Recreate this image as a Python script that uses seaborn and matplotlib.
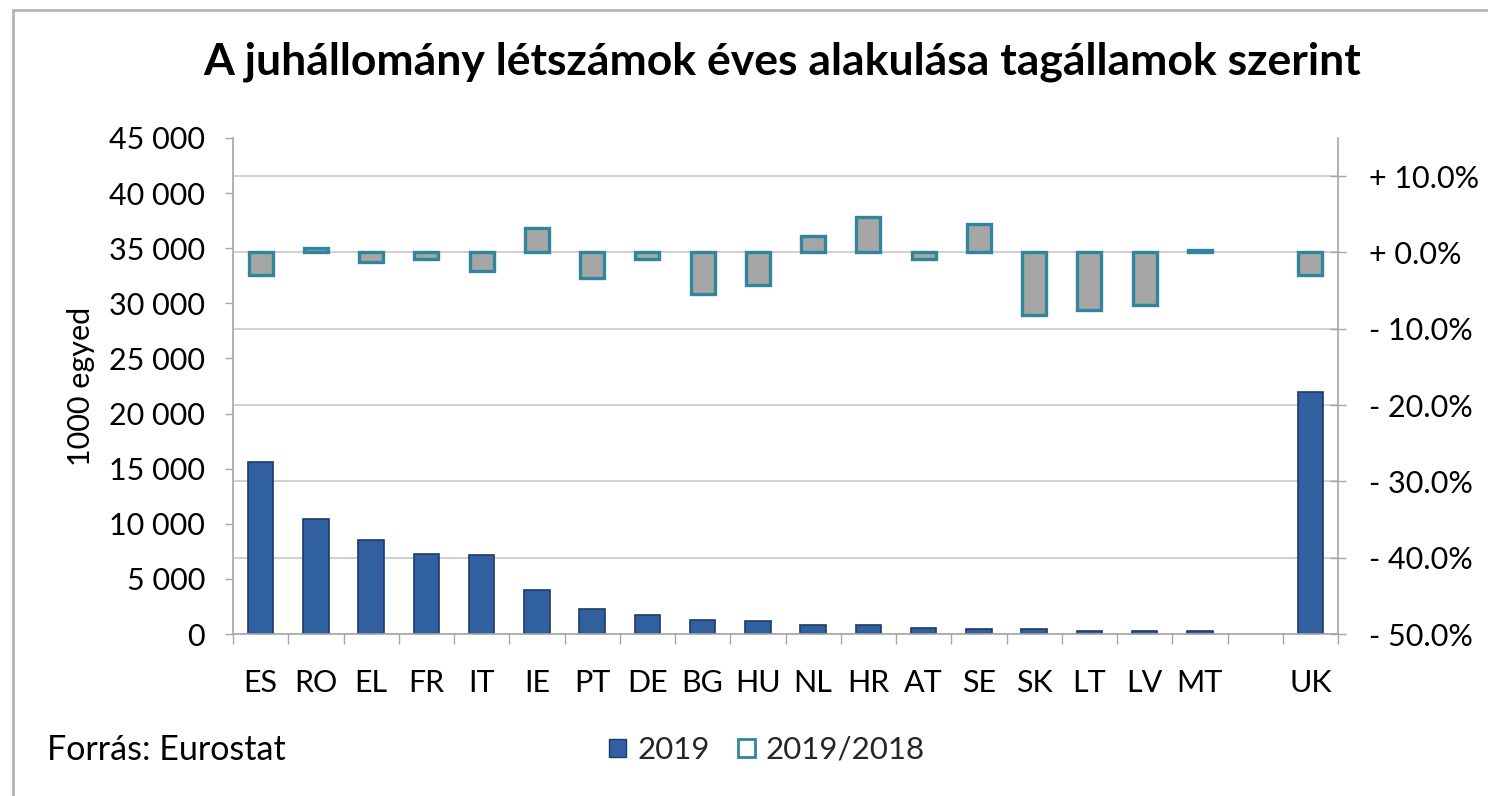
import numpy as np
import pandas as pd
import matplotlib
matplotlib.use("Agg")
import matplotlib.pyplot as plt
import seaborn as sns
from matplotlib.ticker import FuncFormatter, FixedLocator
from matplotlib.patches import Patch, Rectangle

# ---- data ----
countries = ["ES", "RO", "EL", "FR", "IT", "IE", "PT", "DE", "BG", "HU",
             "NL", "HR", "AT", "SE", "SK", "LT", "LV", "MT", " ", "UK"]
heads_2019 = [15600, 10400, 8500, 7250, 7200, 4000, 2300, 1700, 1300, 1150,
              820, 820, 550, 450, 420, 300, 250, 250, np.nan, 22000]
change_2019_2018 = [-2.9, 0.6, -1.3, -0.8, -2.4, 3.2, -3.4, -0.8, -5.5, -4.2,
                    2.1, 4.7, -0.8, 3.7, -8.2, -7.5, -6.9, 0.3, np.nan, -3.0]
left_ticks = [0, 5000, 10000, 15000, 20000, 25000, 30000, 35000, 40000, 45000]
right_ticks = [-50, -40, -30, -20, -10, 0, 10]

title = "A juhállomány létszámok éves alakulása tagállamok szerint"
source = "Forrás: Eurostat"
ylabel = "1000 egyed"
series_names = ["2019", "2019/2018"]

BLUE = "#30609F"
BLUE_EDGE = "#1D3B66"
GREY = "#A6A6A6"
TEAL = "#31859C"
AXC = "#A6A6A6"
FS = 22

df = pd.DataFrame({
    "country": countries,
    "heads": heads_2019,
    "change": [c / 100 for c in change_2019_2018],
})

sns.set_theme(style="white")
plt.rcParams["font.family"] = ["Lato", "DejaVu Sans"]

fig = plt.figure(figsize=(14.88, 7.96), dpi=100)
ax = fig.add_axes([233 / 1488, 1 - 634 / 796, (1338 - 233) / 1488, (634 - 138) / 796])
ax2 = ax.twinx()

sns.barplot(data=df, x="country", y="change", order=countries, ax=ax2,
            color=GREY, edgecolor=TEAL, linewidth=2.4, width=0.43,
            saturation=1, errorbar=None)
sns.barplot(data=df, x="country", y="heads", order=countries, ax=ax,
            color=BLUE, edgecolor=BLUE_EDGE, linewidth=1.2, width=0.46,
            saturation=1, errorbar=None)

ax.set_zorder(ax2.get_zorder() + 1)
ax.patch.set_visible(False)

# limits
ax.set_xlim(-0.5, len(countries) - 0.5)
ax.set_ylim(0, 45000)
ax2.set_ylim(-0.5, 0.15)

# left axis
ax.yaxis.set_major_locator(FixedLocator(left_ticks))
ax.yaxis.set_major_formatter(FuncFormatter(lambda v, p: f"{int(v):,}".replace(",", " ")))
ax.tick_params(axis="y", which="major", direction="out", length=6, width=1,
               color=AXC, labelsize=FS, pad=14, left=True, labelcolor="black")
ax.set_ylabel(ylabel, fontsize=FS, labelpad=10, color="black")

# right axis
ax2.yaxis.set_major_locator(FixedLocator([t / 100 for t in right_ticks]))
def pct_fmt(v, p):
    s = "+" if v >= -1e-9 else "-"
    return f"{s} {abs(v) * 100:.1f}%"
ax2.yaxis.set_major_formatter(FuncFormatter(pct_fmt))
ax2.tick_params(axis="y", which="major", direction="inout", length=12, width=1,
                color=AXC, labelsize=FS, pad=16, right=True, labelcolor="black")
ax2.set_ylabel("")
ax2.yaxis.grid(True, color="#C8C8C8", linewidth=1.2)
ax.grid(False)
ax.xaxis.grid(False)

# x axis
ax.set_xticks(range(len(countries)))
ax.set_xticklabels(countries)
ax.set_xticks(np.arange(-0.5, len(countries), 1.0), minor=True)
ax.tick_params(axis="x", which="major", length=0, pad=25, labelsize=FS, labelcolor="black")
ax.tick_params(axis="x", which="minor", direction="out", length=7, width=1,
               color=AXC, bottom=True)
ax.set_xlabel("")

# spines
for a in (ax, ax2):
    a.spines["top"].set_visible(False)
for s in ("left", "bottom"):
    ax.spines[s].set_color(AXC)
    ax.spines[s].set_linewidth(1.2)
ax.spines["right"].set_visible(False)
ax2.spines["left"].set_visible(False)
ax2.spines["bottom"].set_visible(False)
ax2.spines["right"].set_color(AXC)
ax2.spines["right"].set_linewidth(1.2)

# title, source, legend
fig.text(782 / 1488, 1 - 62 / 796, title, ha="center", va="center",
         fontsize=32, fontweight="bold", color="black")
fig.text(47 / 1488, 1 - 750 / 796, source, ha="left", va="center",
         fontsize=24.5, color="black")
handles = [Patch(facecolor=BLUE, edgecolor=BLUE_EDGE, label=series_names[0]),
           Patch(facecolor="white", edgecolor=TEAL, linewidth=2, label=series_names[1])]
fig.legend(handles=handles, loc="center", bbox_to_anchor=(767 / 1488, 1 - 750 / 796),
           ncol=2, frameon=False, fontsize=22.5, handlelength=0.55, handleheight=0.55,
           handletextpad=0.35, columnspacing=0.9)

# outer chart border
fig.add_artist(Rectangle((13 / 1488, -0.05), 1.1, 1.05 - 10 / 796,
                         transform=fig.transFigure, fill=False,
                         edgecolor="#B4B4B4", linewidth=2))

fig.savefig("out.png", dpi=100)
